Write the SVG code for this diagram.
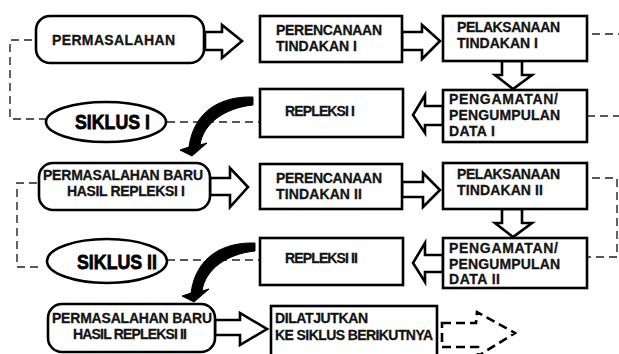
<svg xmlns="http://www.w3.org/2000/svg" width="619" height="354" viewBox="0 0 619 354">
<defs>
<style>
.box{fill:#fff;stroke:#000;stroke-width:2.6}
.blk{fill:#fff;stroke:#000;stroke-width:2.6;stroke-linejoin:miter}
.dash{fill:none;stroke:#222;stroke-width:1.4;stroke-dasharray:8 5}
.t{font-family:"Liberation Sans",Arial,sans-serif;font-weight:700;font-size:14px;fill:#141414;stroke:#141414;stroke-width:0.3}
.big{font-family:"Liberation Sans",Arial,sans-serif;font-weight:900;font-size:21px;fill:#000;stroke:#000;stroke-width:0.8}
.curve{fill:#000;stroke:#000;stroke-width:1}
</style>
<path id="carrow" d="M253 97 C222 96 194 110 189 147 L180 150 L192 156 L207 143 L200 145 C203 124 224 108 253 105 Z"/>
</defs>
<rect width="619" height="354" fill="#fff"/>

<g id="connectors">
  <path class="dash" d="M32 40 H10 V119 H46"/>
  <path class="dash" d="M167 122 H260"/>
  <path class="dash" d="M592 34 H619"/>
  <path class="dash" d="M587 116 H619"/>
  <path class="dash" d="M37 183 H17 V267 H40"/>
  <path class="dash" d="M167 260 H260"/>
  <path class="dash" d="M592 178 H617 V257 H588"/>
  <polygon class="blk" points="205,32 222,32 222,25 242,41 222,58 222,50 205,50"/>
  <polygon class="blk" points="402,32 422,32 422,25 440,41 422,59 422,50 402,50"/>
  <polygon class="blk" points="502,61 522,61 522,75 532,75 513,89 495,75 502,75"/>
  <polygon class="blk" points="443,106 425,106 425,95 413,115 425,133 425,125 443,125"/>
  <polygon class="blk" points="210,178 230,178 230,168 248,187 230,207 230,195 210,195"/>
  <polygon class="blk" points="402,182 423,182 423,173 440,190 423,207 423,197 402,197"/>
  <polygon class="blk" points="502,209 522,209 522,223 532,223 513,237 495,223 502,223"/>
  <polygon class="blk" points="443,255 425,255 425,243 413,263 425,282 425,272 443,272"/>
  <polygon class="blk" points="215,320 240,320 240,313 267,329 240,345 240,335 215,335"/>
  <path d="M442 323 L476 323 L477 312 L515 333 L478 356 L478 347 L442 347 Z" fill="none" stroke="#000" stroke-width="2.6" stroke-dasharray="9 5"/>
  <use href="#carrow" class="curve"/>
  <use href="#carrow" class="curve" transform="translate(2,146)"/>
</g>

<g id="permasalahan">
  <rect class="box" x="36" y="16" width="168" height="47" rx="14"/>
  <text class="t" x="52" y="45" textLength="123">PERMASALAHAN</text>
</g>
<g id="perencanaan1">
  <rect class="box" x="260" y="16" width="142" height="46"/>
  <text class="t" x="276" y="35" textLength="106">PERENCANAAN</text>
  <text class="t" x="276" y="51" textLength="81">TINDAKAN I</text>
</g>
<g id="pelaksanaan1">
  <rect class="box" x="443" y="16" width="144" height="45"/>
  <text class="t" x="457" y="32" textLength="103">PELAKSANAAN</text>
  <text class="t" x="457" y="48" textLength="81">TINDAKAN I</text>
</g>
<g id="pengamatan1">
  <rect class="box" x="443" y="90" width="144" height="52"/>
  <text class="t" x="449" y="104" textLength="109">PENGAMATAN/</text>
  <text class="t" x="449" y="120" textLength="111">PENGUMPULAN</text>
  <text class="t" x="449" y="136" textLength="46">DATA I</text>
</g>
<g id="repleksi1">
  <rect class="box" x="260" y="89" width="143" height="48"/>
  <text class="t" x="285" y="116" textLength="70">REPLEKSI I</text>
</g>
<g id="siklus1">
  <ellipse class="box" cx="106" cy="122" rx="60" ry="20"/>
  <text class="big" x="75" y="129" textLength="75" lengthAdjust="spacingAndGlyphs">SIKLUS I</text>
</g>

<g id="permasalahan-baru1">
  <rect class="box" x="39" y="163" width="171" height="47" rx="14"/>
  <text class="t" x="43" y="180" textLength="160">PERMASALAHAN BARU</text>
  <text class="t" x="67" y="196" textLength="118">HASIL REPLEKSI I</text>
</g>
<g id="perencanaan2">
  <rect class="box" x="260" y="164" width="142" height="45"/>
  <text class="t" x="276" y="183" textLength="106">PERENCANAAN</text>
  <text class="t" x="276" y="199" textLength="86">TINDAKAN II</text>
</g>
<g id="pelaksanaan2">
  <rect class="box" x="443" y="163" width="144" height="46"/>
  <text class="t" x="457" y="179" textLength="103">PELAKSANAAN</text>
  <text class="t" x="457" y="195" textLength="86">TINDAKAN II</text>
</g>
<g id="pengamatan2">
  <rect class="box" x="443" y="238" width="144" height="50"/>
  <text class="t" x="449" y="253" textLength="109">PENGAMATAN/</text>
  <text class="t" x="449" y="269" textLength="111">PENGUMPULAN</text>
  <text class="t" x="449" y="284" textLength="51">DATA II</text>
</g>
<g id="repleksi2">
  <rect class="box" x="260" y="238" width="143" height="47"/>
  <text class="t" x="285" y="263" textLength="73">REPLEKSI II</text>
</g>
<g id="siklus2">
  <ellipse class="box" cx="107" cy="261" rx="60" ry="22"/>
  <text class="big" x="77" y="269" textLength="80" lengthAdjust="spacingAndGlyphs">SIKLUS II</text>
</g>

<g id="permasalahan-baru2">
  <rect class="box" x="48" y="304" width="167" height="48" rx="14"/>
  <text class="t" x="52" y="323" textLength="160">PERMASALAHAN BARU</text>
  <text class="t" x="73" y="339" textLength="114">HASIL REPLEKSI II</text>
</g>
<g id="dilanjutkan">
  <rect class="box" x="271" y="306" width="166" height="54"/>
  <text class="t" x="275" y="323" textLength="93">DILATJUTKAN</text>
  <text class="t" x="275" y="340" textLength="158">KE SIKLUS BERIKUTNYA</text>
</g>
</svg>
